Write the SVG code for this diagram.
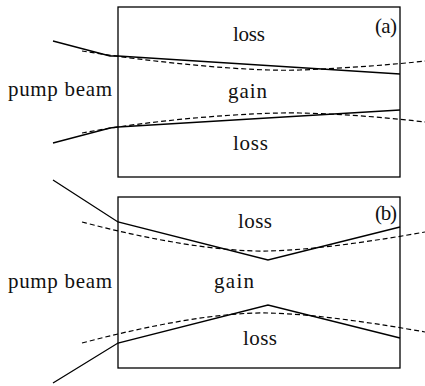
<svg xmlns="http://www.w3.org/2000/svg" width="425" height="386" viewBox="0 0 425 386">
<style>
.box{fill:none;stroke:#000;stroke-width:1.3}
.beam{fill:none;stroke:#000;stroke-width:1.3}
.dash{fill:none;stroke:#000;stroke-width:1.2;stroke-dasharray:5 3}
.t{font-family:'Liberation Serif','DejaVu Serif',serif;font-size:21px;fill:#111}
</style>
<rect width="425" height="386" fill="#fff"/>
<g id="panel-a">
  <rect class="box" x="118" y="7" width="282" height="170"/>
  <text class="t" x="375" y="33" textLength="22">(a)</text>
  <text class="t" x="233" y="41" textLength="32">loss</text>
  <text class="t" x="228" y="98" textLength="39">gain</text>
  <text class="t" x="233" y="150" textLength="35">loss</text>
  <text class="t" x="8" y="96" textLength="104">pump beam</text>
</g>
<g id="panel-b">
  <rect class="box" x="118" y="197" width="282" height="171"/>
  <text class="t" x="375" y="220" textLength="22">(b)</text>
  <text class="t" x="238" y="228" textLength="34">loss</text>
  <text class="t" x="214" y="288" textLength="40">gain</text>
  <text class="t" x="243" y="345" textLength="34">loss</text>
  <text class="t" x="8" y="288" textLength="104">pump beam</text>
</g>
<g id="connectors">
  <polyline class="beam" points="53,41 110,56 118,56 400,74"/>
  <polyline class="beam" points="53,143 110,128 118,127 400,110"/>
  <path class="dash" d="M82,51 C150,62 250,72 300,70 S400,64 425,61"/>
  <path class="dash" d="M82,133 C150,120 250,112 300,113 S400,119 425,122"/>
  <polyline class="beam" points="53,180 118,222 268,260 400,227"/>
  <polyline class="beam" points="53,383 118,343 268,305 400,338"/>
  <path class="dash" d="M82,222 C150,240 220,252 268,251 S380,240 425,232"/>
  <path class="dash" d="M82,343 C150,325 220,312 268,313 S380,324 425,332"/>
</g>
</svg>
